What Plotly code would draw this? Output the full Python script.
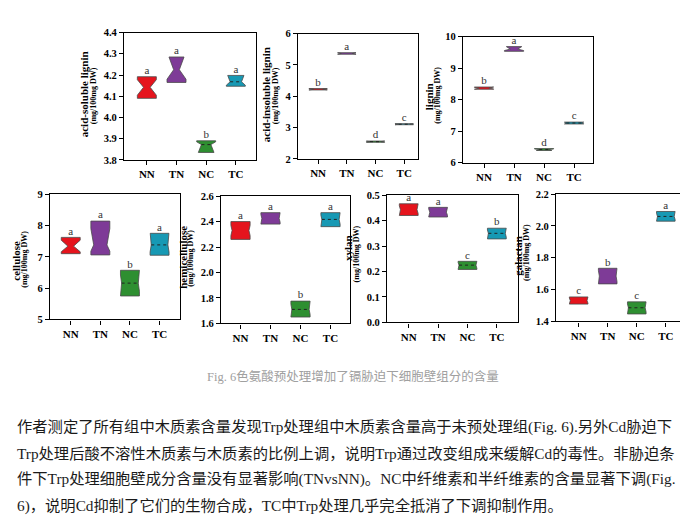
import plotly.graph_objects as go

W, H = 688, 528

groups = ["NN", "TN", "NC", "TC"]
fills = ["#e5141d", "#7e3b97", "#2e8f31", "#1799b4"]

# acid-soluble lignin
asl_q1 = [4.090, 4.165, 3.835, 4.147]
asl_med = [4.142, 4.225, 3.872, 4.168]
asl_q3 = [4.192, 4.285, 3.890, 4.198]
asl_nlo = [4.105, 4.180, 3.815, 4.152]
asl_nhi = [4.178, 4.310, 3.885, 4.215]
asl_sig = ["a", "a", "b", "a"]

# acid-insoluble lignin
ail_q1 = [4.200, 5.340, 2.530, 3.090]
ail_med = [4.222, 5.365, 2.550, 3.107]
ail_q3 = [4.245, 5.390, 2.570, 3.125]
ail_nlo = [4.205, 5.345, 2.535, 3.095]
ail_nhi = [4.240, 5.385, 2.565, 3.120]
ail_sig = ["b", "a", "d", "c"]

# lignin
lig_q1 = [8.33, 9.53, 6.39, 7.23]
lig_med = [8.365, 9.60, 6.42, 7.26]
lig_q3 = [8.40, 9.68, 6.45, 7.29]
lig_nlo = [8.34, 9.555, 6.37, 7.235]
lig_nhi = [8.39, 9.72, 6.44, 7.285]
lig_sig = ["b", "a", "d", "c"]

# cellulose
cel_q1 = [7.10, 7.06, 5.75, 7.05]
cel_med = [7.34, 7.38, 6.16, 7.38]
cel_q3 = [7.62, 8.14, 6.57, 7.75]
cel_nlo = [7.16, 7.18, 5.90, 7.15]
cel_nhi = [7.53, 7.90, 6.42, 7.80]
cel_sig = ["a", "a", "b", "a"]

# hemicellulose
hem_q1 = [2.26, 2.38, 1.65, 2.36]
hem_med = [2.33, 2.425, 1.71, 2.417]
hem_q3 = [2.40, 2.47, 1.775, 2.47]
hem_nlo = [2.29, 2.395, 1.67, 2.38]
hem_nhi = [2.37, 2.455, 1.75, 2.45]
hem_sig = ["a", "a", "b", "a"]

# xylan
xyl_q1 = [0.420, 0.414, 0.208, 0.328]
xyl_med = [0.443, 0.433, 0.225, 0.350]
xyl_q3 = [0.466, 0.452, 0.240, 0.370]
xyl_nlo = [0.428, 0.420, 0.213, 0.335]
xyl_nhi = [0.458, 0.446, 0.236, 0.363]
xyl_sig = ["a", "a", "c", "b"]

# galactan
gal_q1 = [1.509, 1.636, 1.447, 2.030]
gal_med = [1.531, 1.685, 1.486, 2.060]
gal_q3 = [1.554, 1.734, 1.523, 2.091]
gal_nlo = [1.515, 1.650, 1.460, 2.040]
gal_nhi = [1.547, 1.720, 1.510, 2.080]
gal_sig = ["c", "b", "c", "a"]

caption = "Fig. 6色氨酸预处理增加了镉胁迫下细胞壁组分的含量"
paragraph = [
    "作者测定了所有组中木质素含量发现Trp处理组中木质素含量高于未预处理组(Fig. 6).另外Cd胁迫下",
    "Trp处理后酸不溶性木质素与木质素的比例上调，说明Trp通过改变组成来缓解Cd的毒性。非胁迫条",
    "件下Trp处理细胞壁成分含量没有显著影响(TNvsNN)。NC中纤维素和半纤维素的含量显著下调(Fig.",
    "6)，说明Cd抑制了它们的生物合成，TC中Trp处理几乎完全抵消了下调抑制作用。",
]

# panel layout (pixels): x0, x1, y0(top), y1(bottom); title line x positions; title centre y
panels = [
    dict(t="acid-soluble lignin", rng=[3.8, 4.4], dt=0.1, fmt=".1f",
         d=[asl_q1, asl_med, asl_q3, asl_nlo, asl_nhi, asl_sig], waist=[0.35, 0.3, 0.5, 0.6],
         box=(116, 248, 20, 150), xr=[-0.77, 3.68], tx=(76, 85), ty=(83, 85)),
    dict(t="acid-insoluble lignin", rng=[2, 6], dt=1, fmt="d",
         d=[ail_q1, ail_med, ail_q3, ail_nlo, ail_nhi, ail_sig], waist=[0.5, 0.6, 0.6, 0.6],
         box=(290, 410, 21, 149), xr=[-0.70, 3.48], tx=(258, 267), ty=(84, 85)),
    dict(t="lignin", rng=[6, 10], dt=1, fmt="d",
         d=[lig_q1, lig_med, lig_q3, lig_nlo, lig_nhi, lig_sig], waist=[0.5, 0.4, 0.5, 0.8],
         box=(455, 585, 24, 153), xr=[-0.70, 3.63], tx=(421, 429.5), ty=(86, 84)),
    dict(t="cellulose", rng=[5, 9], dt=1, fmt="d",
         d=[cel_q1, cel_med, cel_q3, cel_nlo, cel_nhi, cel_sig], waist=[0.3, 0.7, 0.88, 0.88],
         box=(42, 172, 185, 313), xr=[-0.70, 3.69], tx=(8, 17), ty=(253, 252)),
    dict(t="hemicellulose", rng=[1.6, 2.6], dt=0.2, fmt=".1f",
         d=[hem_q1, hem_med, hem_q3, hem_nlo, hem_nhi, hem_sig], waist=[0.88, 0.9, 0.9, 0.9],
         box=(213, 342, 187, 317), xr=[-0.65, 3.65], tx=(175, 183), ty=(250, 250)),
    dict(t="xylan", rng=[0, 0.5], dt=0.1, fmt=".1f",
         d=[xyl_q1, xyl_med, xyl_q3, xyl_nlo, xyl_nhi, xyl_sig], waist=[0.88, 0.88, 0.9, 0.9],
         box=(379, 510, 186, 316), xr=[-0.74, 3.72], tx=(340, 348.5), ty=(240, 246)),
    dict(t="galactan", rng=[1.4, 2.2], dt=0.2, fmt=".1f",
         d=[gal_q1, gal_med, gal_q3, gal_nlo, gal_nhi, gal_sig], waist=[0.9, 0.9, 0.9, 0.9],
         box=(548, 677, 185, 315), xr=[-0.78, 3.66], tx=(510, 519), ty=(248, 245)),
]

HALF = 0.32
SERIF = "Liberation Serif, Times New Roman, serif"


def px(x):
    return x / W


def py(y):
    return 1 - y / H


def notch_shape(i, q1, med, q3, nlo, nhi, w):
    hw = HALF * w
    bl = HALF if nlo >= q1 else hw + (HALF - hw) * (med - q1) / (med - nlo)
    tl = HALF if nhi <= q3 else hw + (HALF - hw) * (q3 - med) / (nhi - med)
    right = [(bl, q1)]
    if nlo > q1:
        right.append((HALF, nlo))
    right.append((hw, med))
    if nhi < q3:
        right.append((HALF, nhi))
    right.append((tl, q3))
    xs = [i + dx for dx, _ in right] + [i - dx for dx, _ in reversed(right)]
    ys = [y for _, y in right] + [y for _, y in reversed(right)]
    return xs + [xs[0]], ys + [ys[0]]


fig = go.Figure()
annotations = []

for k, p in enumerate(panels, start=1):
    xa = "x" if k == 1 else f"x{k}"
    ya = "y" if k == 1 else f"y{k}"
    q1, med, q3, nlo, nhi, sig = p["d"]
    for i in range(4):
        xs, ys = notch_shape(i, q1[i], med[i], q3[i], nlo[i], nhi[i], p["waist"][i])
        fig.add_trace(go.Scatter(x=xs, y=ys, mode="lines", fill="toself",
                                 fillcolor=fills[i], line=dict(color="#4a4a4a", width=0.8),
                                 xaxis=xa, yaxis=ya, hoverinfo="skip", showlegend=False))
        if groups[i] in ("NC", "TC"):
            hw = HALF * p["waist"][i]
            fig.add_trace(go.Scatter(x=[i - hw, i + hw], y=[med[i], med[i]], mode="lines",
                                     line=dict(color="#222", width=1, dash="dot"),
                                     xaxis=xa, yaxis=ya, hoverinfo="skip", showlegend=False))
    fig.add_trace(go.Scatter(x=list(range(4)), y=q3, mode="text", text=sig,
                             textposition="top center",
                             textfont=dict(family=SERIF, size=11, color="#333"),
                             xaxis=xa, yaxis=ya, hoverinfo="skip", showlegend=False))

    x0, x1, y0, y1 = p["box"]
    fig.layout[f"xaxis{'' if k == 1 else k}"] = dict(
        domain=[px(x0), px(x1)], anchor=ya, range=p["xr"],
        tickvals=list(range(4)), ticktext=groups,
        ticks="outside", ticklen=4, tickwidth=1.2, tickcolor="black",
        showline=True, mirror=True, linecolor="black", linewidth=1.3,
        showgrid=False, zeroline=False,
        tickfont=dict(family=SERIF, size=11, color="black", weight="bold"))
    fig.layout[f"yaxis{'' if k == 1 else k}"] = dict(
        domain=[py(y1), py(y0)], anchor=xa, range=p["rng"], dtick=p["dt"],
        tickformat=p["fmt"],
        ticks="outside", ticklen=4, tickwidth=1.2, tickcolor="black",
        showline=True, mirror=True, linecolor="black", linewidth=1.3,
        showgrid=False, zeroline=False,
        tickfont=dict(family=SERIF, size=10.5, color="black", weight="bold"))

    annotations.append(dict(text=f"<b>{p['t']}</b>", x=px(p["tx"][0]), y=py(p["ty"][0]),
                            xref="paper", yref="paper", textangle=-90, showarrow=False,
                            xanchor="center", yanchor="middle",
                            font=dict(family=SERIF, size=11, color="black")))
    annotations.append(dict(text="<b>(mg/100mg DW)</b>", x=px(p["tx"][1]), y=py(p["ty"][1]),
                            xref="paper", yref="paper", textangle=-90, showarrow=False,
                            xanchor="center", yanchor="middle",
                            font=dict(family=SERIF, size=8, color="black")))

CJK = "Liberation Serif, Noto Sans CJK SC, sans-serif"
annotations.append(dict(text=caption, x=px(345), y=py(371), xref="paper", yref="paper",
                        showarrow=False, xanchor="center", yanchor="middle",
                        font=dict(family=CJK, size=12.5, color="#a0a0a0")))
for j, line in enumerate(paragraph):
    annotations.append(dict(text=line, x=px(7), y=py(423 + j * 26.7), xref="paper", yref="paper",
                            showarrow=False, xanchor="left", yanchor="middle",
                            font=dict(family=CJK, size=15.3, color="#1a1a1a")))

fig.update_layout(width=W, height=H, margin=dict(l=0, r=0, t=0, b=0),
                  paper_bgcolor="white", plot_bgcolor="white",
                  annotations=annotations, showlegend=False)

fig.write_html("out.html")
